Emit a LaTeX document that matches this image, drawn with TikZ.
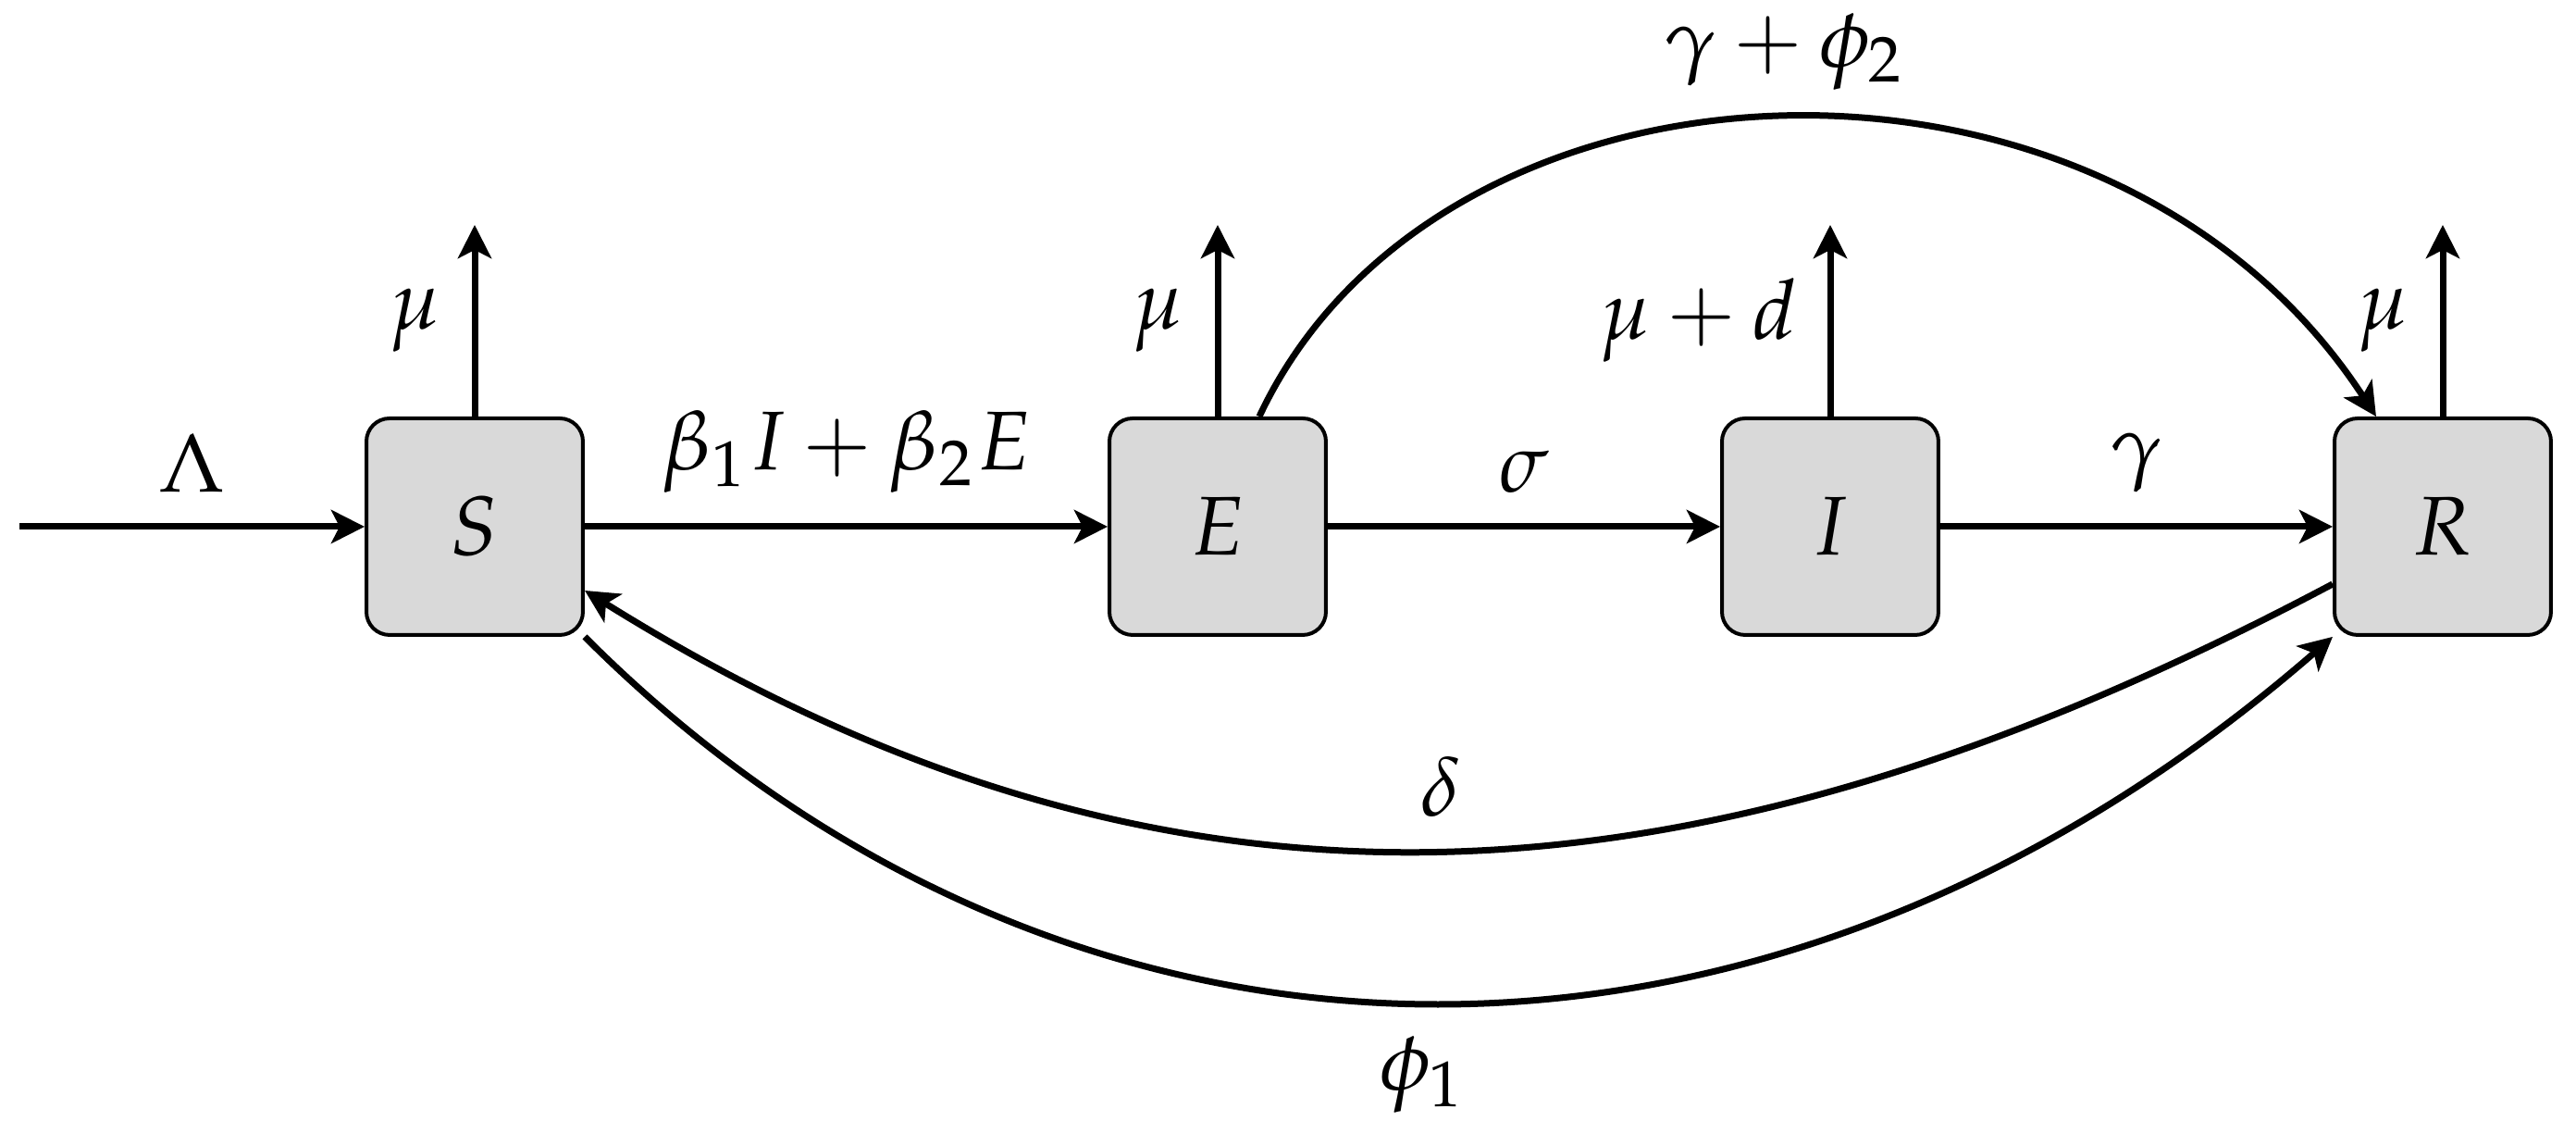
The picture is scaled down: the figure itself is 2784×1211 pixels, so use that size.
\documentclass[tikz,border=0pt]{standalone}
\usepackage{mathpazo}
\usetikzlibrary{arrows.meta}
\definecolor{boxgray}{HTML}{D9D9D9}
\begin{document}
\begin{tikzpicture}[x=0.1pt,y={(0pt,-0.1pt)},
  font=\fontsize{9}{11}\selectfont,
  box/.style={draw=black, line width=0.4pt, fill=boxgray, rounded corners=2.5pt,
    minimum width=23.4pt, minimum height=23.4pt, inner sep=0pt},
  flow/.style={line width=0.7pt, -{Stealth[length=3.6pt,width=3.6pt,inset=0.9pt]}},
  outflow/.style={line width=0.7pt, -{Stealth[length=3.6pt,width=3.6pt,inset=0.9pt]}}]
\useasboundingbox (0,0) rectangle (2784,1211);

\node[box] (S) at (513,569) {$S$};
\node[box] (E) at (1316,569) {$E$};
\node[box] (I) at (1978,569) {$I$};
\node[box] (R) at (2640,569) {$R$};

\coordinate (src) at (21,569);
\coordinate (Sup) at (513,243);
\coordinate (Eup) at (1316,243);
\coordinate (Iup) at (1978,243);
\coordinate (Rup) at (2640,243);

\draw[flow] (src) -- node[above]{$\Lambda$} (S);
\draw[flow] (S) -- node[above]{$\beta_1 I+\beta_2 E$} (E);
\draw[flow] (E) -- node[above]{$\sigma$} (I);
\draw[flow] (I) -- node[above]{$\gamma$} (R);

\draw[outflow] (S.north) -- node[left]{$\mu$} (Sup);
\draw[outflow] (E.north) -- node[left]{$\mu$} (Eup);
\draw[outflow] (I.north) -- node[left]{$\mu+d$} (Iup);
\draw[outflow] (R.north) -- node[left]{$\mu$} (Rup);

\draw[flow] ([xshift=4.5pt]E.north) .. controls +(195,-415) and +(-290,-445) ..
  node[above, inner sep=1pt, yshift=1.7pt]{$\gamma+\phi_2$} ([xshift=-7.2pt]R.north);
\draw[flow] ([yshift=-6.2pt]R.west) .. controls +(-684,363) and +(633,395) ..
  node[above]{$\delta$} ([yshift=-6.9pt]S.east);
\draw[flow] (S.south east) .. controls +(515,515) and +(-619,538) ..
  node[below]{$\phi_1$} (R.south west);
\end{tikzpicture}
\end{document}
